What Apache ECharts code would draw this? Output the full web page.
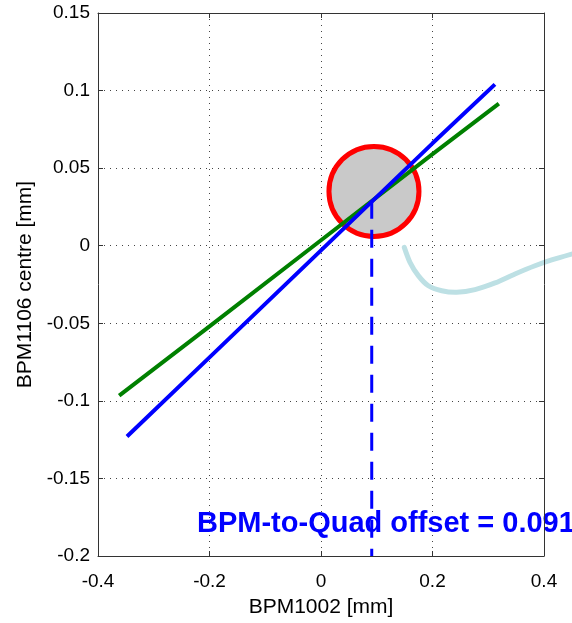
<!DOCTYPE html>
<html>
<head>
<meta charset="utf-8">
<script src="https://cdn.jsdelivr.net/npm/echarts@6/dist/echarts.min.js"></script>
<style>
  html, body { margin: 0; padding: 0; background: #fff; }
  #chart { width: 572px; height: 623px; }
</style>
</head>
<body>
<div id="chart"></div>
<script>
// Axis ticks and their printed labels
const xTicks = [-0.4, -0.2, 0, 0.2, 0.4];
const xTickLabels = ['-0.4', '-0.2', '0', '0.2', '0.4'];
const yTicks = [-0.2, -0.15, -0.1, -0.05, 0, 0.05, 0.1, 0.15];
const yTickLabels = ['-0.2', '-0.15', '-0.1', '-0.05', '0', '0.05', '0.1', '0.15'];

// BPM1106 centre vs BPM1002 for the two quad settings
const scanBlue = [[-0.348, -0.123], [-0.2, -0.072], [0, -0.003], [0.2, 0.066], [0.312, 0.104]];
const scanGreen = [[-0.362, -0.0966], [-0.2, -0.052], [0, 0.0035], [0.2, 0.059], [0.319, 0.0916]];

// Crossing point of the two fits and the resulting offset
const quadOffset = 0.091;
const crossingY = 0.029;
const offsetMarker = [[quadOffset, crossingY], [quadOffset, -0.2]];
const crossingCircle = [[0.095, 0.035]];

// Callout stroke leaving the circle (runs past the right edge of the axes)
const calloutCurve = [
  [0.1494, -0.0011], [0.1596, -0.0107], [0.1745, -0.0193], [0.1925, -0.0258],
  [0.2165, -0.0290], [0.2434, -0.0300], [0.2762, -0.0283], [0.3121, -0.0240],
  [0.3480, -0.0182], [0.3839, -0.0129], [0.4138, -0.0092], [0.4497, -0.0054]
];

// Where the offset caption starts (data coordinates)
const captionAnchor = [[-0.2224, -0.1791]];

function tickLabel(ticks, labels) {
  return function (v) {
    const i = ticks.findIndex(t => Math.abs(t - v) < 1e-9);
    return i >= 0 ? labels[i] : '';
  };
}

const FONT = 'Liberation Sans, Arial, Helvetica, sans-serif';
const frameColor = '#333';
const gridLine = { show: true, lineStyle: { color: '#444', width: 1, type: [1, 5] } };

const chart = echarts.init(document.getElementById('chart'), null, { renderer: 'canvas' });

chart.setOption({
  animation: false,
  backgroundColor: '#fff',
  grid: { left: 98, top: 13, right: 28, bottom: 65, containLabel: false },
  xAxis: [
    {
      type: 'value', min: -0.4, max: 0.4, interval: 0.2, position: 'bottom',
      name: 'BPM1002 [mm]', nameLocation: 'middle', nameGap: 41,
      nameTextStyle: { fontFamily: FONT, fontSize: 21, color: '#000' },
      axisLine: { show: true, onZero: false, lineStyle: { color: frameColor, width: 1 } },
      axisTick: { show: true, inside: true, length: 5, lineStyle: { color: frameColor } },
      axisLabel: { margin: 16, fontFamily: FONT, fontSize: 19, color: '#000',
                   formatter: tickLabel(xTicks, xTickLabels) },
      splitLine: gridLine
    },
    {
      type: 'value', min: -0.4, max: 0.4, interval: 0.2, position: 'top', z: 10,
      axisLine: { show: true, onZero: false, lineStyle: { color: frameColor, width: 1 } },
      axisTick: { show: true, inside: true, length: 5, lineStyle: { color: frameColor } },
      axisLabel: { show: false },
      splitLine: { show: false }
    }
  ],
  yAxis: [
    {
      type: 'value', min: -0.2, max: 0.15, interval: 0.05, position: 'left',
      name: 'BPM1106 centre [mm]', nameLocation: 'middle', nameGap: 62,
      nameTextStyle: { fontFamily: FONT, fontSize: 21, color: '#000' },
      axisLine: { show: true, onZero: false, lineStyle: { color: frameColor, width: 1 } },
      axisTick: { show: true, inside: true, length: 5, lineStyle: { color: frameColor } },
      axisLabel: { margin: 8, fontFamily: FONT, fontSize: 19, color: '#000',
                   formatter: tickLabel(yTicks, yTickLabels) },
      splitLine: gridLine
    },
    {
      type: 'value', min: -0.2, max: 0.15, interval: 0.05, position: 'right', z: 10,
      axisLine: { show: true, onZero: false, lineStyle: { color: frameColor, width: 1 } },
      axisTick: { show: true, inside: true, length: 5, lineStyle: { color: frameColor } },
      axisLabel: { show: false },
      splitLine: { show: false }
    }
  ],
  series: [
    {
      name: 'circle', type: 'scatter', data: crossingCircle, symbol: 'circle', symbolSize: 90,
      z: 2, silent: true,
      itemStyle: { color: '#c9c9c9', borderColor: '#ff0000', borderWidth: 5, opacity: 1 }
    },
    {
      name: 'scan A', type: 'line', data: scanGreen, showSymbol: false, z: 3,
      lineStyle: { color: '#008000', width: 4 }
    },
    {
      name: 'scan B', type: 'line', data: scanBlue, showSymbol: false, z: 4,
      lineStyle: { color: '#0000ff', width: 4 }
    },
    {
      name: 'caption', type: 'scatter', data: captionAnchor, symbolSize: 0, z: 5, silent: true,
      itemStyle: { opacity: 1 },
      label: {
        show: true, position: 'right', distance: 0, opacity: 1,
        formatter: 'BPM-to-Quad offset = ' + quadOffset.toFixed(3),
        fontFamily: FONT, fontWeight: 'bold', fontSize: 29, color: '#0000ff'
      }
    },
    {
      name: 'offset', type: 'line', data: offsetMarker, showSymbol: false, z: 6,
      lineStyle: { color: '#0000ff', width: 3, type: [18, 11] }
    }
  ]
});

// The callout stroke leaves the axes, so it is drawn as a graphic placed
// through the axis scales rather than as a clipped series.
const calloutPixels = calloutCurve.map(p => chart.convertToPixel({ xAxisIndex: 0, yAxisIndex: 0 }, p));
chart.setOption({
  graphic: [{
    type: 'polyline', z: 1, silent: true,
    shape: { points: calloutPixels, smooth: 0.3 },
    style: { stroke: '#bde0e4', lineWidth: 5, fill: null, lineCap: 'round' }
  }]
});
</script>
</body>
</html>
